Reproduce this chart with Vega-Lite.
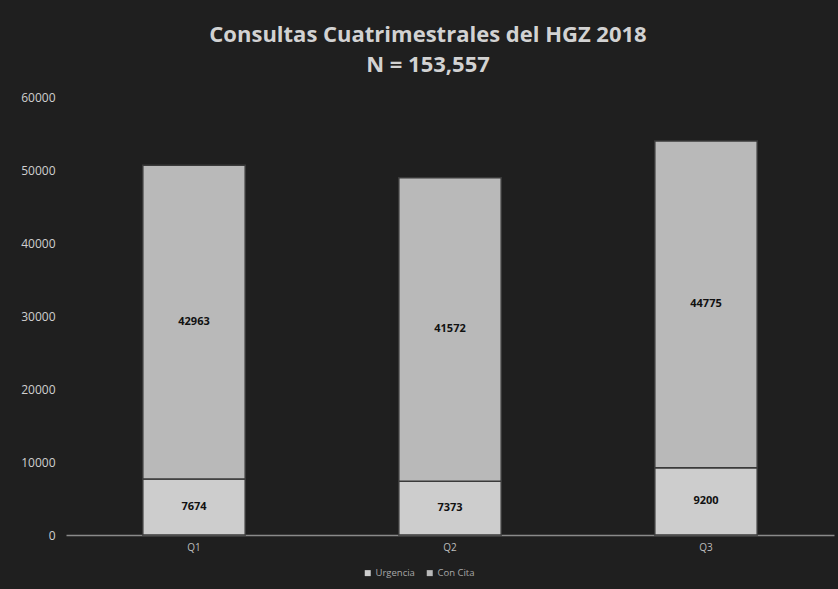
{
  "$schema": "https://vega.github.io/schema/vega-lite/v6.json",
  "width": 768,
  "height": 438,
  "autosize": {"type": "none"},
  "padding": {"left": 66, "top": 97, "right": 4, "bottom": 54},
  "background": "#1f1f1f",
  "config": {
    "view": {"stroke": null},
    "font": "Open Sans"
  },
  "title": {
    "text": ["Consultas Cuatrimestrales del HGZ 2018", "N = 153,557"],
    "color": "#d2d2d2",
    "font": "Open Sans",
    "fontSize": 22,
    "fontWeight": "bold",
    "lineHeight": 30,
    "anchor": "middle",
    "dx": -22,
    "offset": 14
  },
  "data": {
    "values": [
      {"cuatrimestre": "Q1", "tipo": "Urgencia", "consultas": 7674},
      {"cuatrimestre": "Q1", "tipo": "Con Cita", "consultas": 42963},
      {"cuatrimestre": "Q2", "tipo": "Urgencia", "consultas": 7373},
      {"cuatrimestre": "Q2", "tipo": "Con Cita", "consultas": 41572},
      {"cuatrimestre": "Q3", "tipo": "Urgencia", "consultas": 9200},
      {"cuatrimestre": "Q3", "tipo": "Con Cita", "consultas": 44775}
    ]
  },
  "transform": [
    {"calculate": "datum.tipo === 'Urgencia' ? 0 : 1", "as": "orden"},
    {"stack": "consultas", "groupby": ["cuatrimestre"], "sort": [{"field": "orden", "order": "ascending"}], "as": ["y0", "y1"]},
    {"calculate": "(datum.y0 + datum.y1) / 2", "as": "ymid"}
  ],
  "encoding": {
    "x": {
      "field": "cuatrimestre",
      "type": "nominal",
      "scale": {"paddingInner": 0.6, "paddingOuter": 0.3},
      "axis": {
        "title": null,
        "labelAngle": 0,
        "ticks": false,
        "domainColor": "#8a8a8a",
        "domainWidth": 1.5,
        "labelColor": "#bdbdbd",
        "labelFontSize": 10,
        "labelPadding": 7
      }
    }
  },
  "layer": [
    {
      "mark": {"type": "bar", "stroke": "#3a3a3a", "strokeWidth": 1.5},
      "encoding": {
        "y": {
          "field": "y0",
          "type": "quantitative",
          "scale": {"domain": [0, 60000], "nice": false},
          "axis": {
            "title": null,
            "values": [0, 10000, 20000, 30000, 40000, 50000, 60000],
            "format": "d",
            "grid": false,
            "ticks": false,
            "domain": false,
            "labelColor": "#cfcfcf",
            "labelFontSize": 12,
            "labelPadding": 11
          }
        },
        "y2": {"field": "y1"},
        "color": {
          "field": "tipo",
          "type": "nominal",
          "scale": {"domain": ["Urgencia", "Con Cita"], "range": ["#cdcdcd", "#b9b9b9"]},
          "legend": {
            "title": null,
            "orient": "none",
            "legendX": 297,
            "legendY": 471,
            "direction": "horizontal",
            "symbolType": "square",
            "symbolSize": 36,
            "symbolStrokeWidth": 0,
            "labelColor": "#a8a8a8",
            "labelFontSize": 9.5,
            "columnPadding": 10,
            "labelOffset": 3
          }
        }
      }
    },
    {
      "mark": {"type": "text", "color": "#111111", "fontWeight": "bold", "fontSize": 11},
      "encoding": {
        "y": {"field": "ymid", "type": "quantitative"},
        "text": {"field": "consultas", "type": "quantitative", "format": "d"}
      }
    }
  ]
}
